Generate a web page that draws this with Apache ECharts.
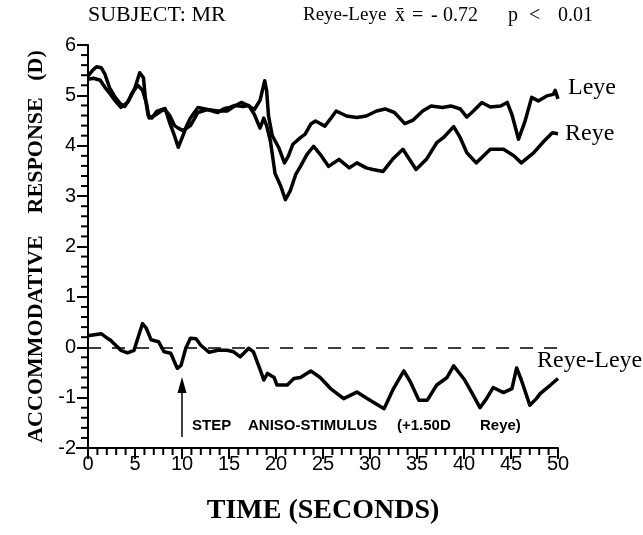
<!DOCTYPE html>
<html>
<head>
<meta charset="utf-8">
<script src="https://cdn.jsdelivr.net/npm/echarts@6/dist/echarts.min.js"></script>
<style>
html,body{margin:0;padding:0;background:#fff;}
#c{width:643px;height:535px;}
</style>
</head>
<body>
<div id="c"></div>
<script>
// ---- Data (time in seconds, accommodative response in D) ----
var xTicks = [0, 5, 10, 15, 20, 25, 30, 35, 40, 45, 50];
var yTicks = [-2, -1, 0, 1, 2, 3, 4, 5, 6];

var reyeT = [0,0.5,0.9,1.4,1.8,2.3,2.9,3.4,3.9,4.4,5.0,5.5,5.9,6.1,6.4,6.8,7.3,8.2,8.7,9.2,9.6,10.1,10.5,10.9,11.7,12.7,13.8,14.5,15.1,15.6,16.5,17.1,17.7,18.3,18.7,19.0,19.4,19.9,20.5,21.0,21.5,22.1,22.6,23.3,24.0,24.7,25.6,26.7,27.8,28.6,29.6,30.3,31.4,32.4,33.5,34.9,36.0,37.1,37.8,38.9,39.6,40.3,41.3,42.8,44.2,45.3,46.1,47.4,48.5,49.4,50];
var reyeV = [5.38,5.5,5.57,5.55,5.42,5.15,4.96,4.84,4.78,4.92,5.15,5.45,5.35,4.95,4.6,4.55,4.68,4.74,4.45,4.2,3.97,4.2,4.4,4.55,4.76,4.72,4.66,4.74,4.76,4.8,4.78,4.8,4.62,4.35,4.55,4.4,4.1,3.45,3.2,2.93,3.1,3.43,3.59,3.83,3.99,3.83,3.59,3.73,3.56,3.66,3.56,3.53,3.49,3.73,3.93,3.53,3.73,4.06,4.16,4.38,4.16,3.86,3.66,3.93,3.93,3.8,3.66,3.86,4.09,4.26,4.24];

var leyeT = [0,0.6,1.3,1.8,2.4,2.9,3.5,4.2,4.7,5.3,5.8,6.2,6.5,7.0,7.8,8.2,8.7,9.2,9.6,10.1,10.9,11.7,12.7,13.8,14.8,15.6,16.3,17.0,17.7,18.3,18.8,19.0,19.2,19.6,20.3,20.9,21.3,21.8,22.6,23.1,23.7,24.2,25.2,25.9,26.4,27.5,28.6,29.6,30.7,31.6,32.6,33.7,34.6,35.6,36.5,37.7,38.6,39.6,40.3,41.0,41.9,42.8,43.9,44.6,45.1,45.8,46.5,47.2,47.9,48.8,49.5,49.7,50];
var leyeV = [5.32,5.34,5.3,5.16,5.02,4.89,4.76,4.86,5.05,5.2,5.1,4.86,4.55,4.59,4.69,4.72,4.6,4.4,4.35,4.3,4.4,4.66,4.72,4.69,4.69,4.79,4.86,4.8,4.72,4.9,5.29,5.1,4.6,4.2,3.96,3.66,3.79,4.03,4.16,4.23,4.43,4.49,4.39,4.56,4.69,4.59,4.56,4.59,4.69,4.73,4.66,4.44,4.51,4.69,4.79,4.76,4.79,4.73,4.57,4.69,4.86,4.77,4.79,4.86,4.62,4.13,4.49,4.96,4.89,4.99,5.02,5.1,4.93];

var diffT = [0,0.7,1.4,1.9,2.4,3.0,3.5,4.2,4.9,5.3,5.8,6.2,6.7,7.5,8.1,8.8,9.5,9.9,10.4,10.9,11.5,12.0,12.9,13.8,14.8,15.5,16.2,17.1,17.6,18.4,18.7,19.1,19.8,20.1,21.2,21.9,22.6,23.7,24.7,25.8,27.2,28.6,30.0,31.5,32.5,33.6,34.3,35.2,36.1,37.1,38.2,38.9,40.0,40.8,41.7,42.4,43.1,44.2,45.1,45.6,46.1,47.0,47.7,48.1,49.2,50.0];
var diffV = [0.23,0.25,0.27,0.2,0.14,0.03,-0.06,-0.11,-0.06,0.18,0.47,0.38,0.15,0.11,-0.09,-0.12,-0.42,-0.36,-0.02,0.18,0.17,0.04,-0.1,-0.06,-0.06,-0.09,-0.19,-0.02,-0.09,-0.49,-0.65,-0.52,-0.6,-0.75,-0.75,-0.62,-0.6,-0.47,-0.6,-0.82,-1.02,-0.89,-1.05,-1.22,-0.82,-0.47,-0.69,-1.05,-1.05,-0.75,-0.6,-0.37,-0.63,-0.89,-1.2,-1.02,-0.8,-0.9,-0.82,-0.41,-0.65,-1.15,-1.02,-0.92,-0.75,-0.62];

var stepTime = 10;          // stimulus step at 10 s
var arrowFrom = -1.78, arrowTo = -0.75;
var xMinorStep = 1;         // minor tick spacing (s)
var yMinorStep = 0.2;       // minor tick spacing (D)

function pairs(t, v) { return t.map(function (x, i) { return [x, v[i]]; }); }

var xMin = xTicks[0], xMax = xTicks[xTicks.length - 1];
var yMin = yTicks[0], yMax = yTicks[yTicks.length - 1];

// minor tick positions (axis values, not data)
var xMinor = [], yMinor = [];
for (var i = 1; i < Math.round((xMax - xMin) / xMinorStep); i++) {
  var xv = xMin + i * xMinorStep;
  if (xTicks.indexOf(xv) < 0) xMinor.push([xv, yMin]);
}
for (var j = 1; j < Math.round((yMax - yMin) / yMinorStep); j++) {
  if (j % 5 === 0) continue;
  yMinor.push([xMin, +(yMin + j * yMinorStep).toFixed(2)]);
}

var chart = echarts.init(document.getElementById('c'), null, {renderer: 'canvas'});
var serif = "'Liberation Serif', 'DejaVu Serif', serif";
var sans = "'Liberation Sans', Arial, sans-serif";
var lineStyle = {color: '#000', width: 3.5, join: 'round'};

function tickRenderer(dir) {
  return function (params, api) {
    var p = api.coord([api.value(0), api.value(1)]);
    var shape = dir === 'x'
      ? {x1: p[0], y1: p[1], x2: p[0], y2: p[1] + 7}
      : {x1: p[0], y1: p[1], x2: p[0] - 7, y2: p[1]};
    return {type: 'line', shape: shape, style: {stroke: '#000', lineWidth: 2}};
  };
}

chart.setOption({
  backgroundColor: '#fff',
  animation: false,
  grid: {left: 88, right: 85, top: 45, bottom: 87, containLabel: false},
  xAxis: {
    type: 'value', min: xMin, max: xMax, interval: 5,
    name: 'TIME (SECONDS)', nameLocation: 'middle', nameGap: 49,
    nameTextStyle: {fontFamily: serif, fontWeight: 'bold', fontSize: 28, color: '#000'},
    axisLine: {onZero: false, lineStyle: {color: '#000', width: 2}},
    axisTick: {show: true, inside: false, length: 11, lineStyle: {color: '#000', width: 2}},
    axisLabel: {fontFamily: sans, fontSize: 20, color: '#000', margin: 6},
    splitLine: {show: false}
  },
  yAxis: {
    type: 'value', min: yMin, max: yMax, interval: 1,
    name: 'ACCOMMODATIVE    RESPONSE   (D)', nameLocation: 'middle', nameGap: 32, nameRotate: 90,
    nameTextStyle: {fontFamily: serif, fontWeight: 'bold', fontSize: 22, color: '#000'},
    axisLine: {onZero: false, lineStyle: {color: '#000', width: 2}},
    axisTick: {show: true, inside: false, length: 11, lineStyle: {color: '#000', width: 2}},
    axisLabel: {fontFamily: sans, fontSize: 20, color: '#000', margin: 12},
    splitLine: {show: false}
  },
  series: [
    {name: 'Leye', type: 'line', data: pairs(leyeT, leyeV), showSymbol: false, symbol: 'none', lineStyle: lineStyle, z: 3},
    {name: 'Reye', type: 'line', data: pairs(reyeT, reyeV), showSymbol: false, symbol: 'none', lineStyle: lineStyle, z: 3},
    {name: 'Reye-Leye', type: 'line', data: pairs(diffT, diffV), showSymbol: false, symbol: 'none', lineStyle: lineStyle, z: 3,
      markLine: {
        silent: true, animation: false, label: {show: false}, symbol: ['none', 'none'],
        data: [
          {yAxis: 0, lineStyle: {color: '#000', width: 1.5, type: [13, 11]}},
          [{coord: [stepTime, arrowFrom], symbol: 'none', lineStyle: {color: '#000', width: 1.5, type: 'solid'}},
           {coord: [stepTime, arrowTo], symbol: 'triangle', symbolSize: [9, 16]}]
        ]
      }
    },
    {name: 'xMinorTicks', type: 'custom', clip: false, silent: true, data: xMinor, renderItem: tickRenderer('x'), z: 5},
    {name: 'yMinorTicks', type: 'custom', clip: false, silent: true, data: yMinor, renderItem: tickRenderer('y'), z: 5}
  ],
  graphic: [
    {type: 'line', shape: {x1: 76, y1: 448, x2: 88, y2: 448}, style: {stroke: '#000', lineWidth: 2}},
    {type: 'text', left: 88, top: 4, style: {text: 'SUBJECT: MR', font: '22px ' + serif, fill: '#000'}},
    {type: 'text', left: 303, top: 6, style: {text: 'Reye-Leye', font: '19px ' + serif, fill: '#000'}},
    {type: 'text', left: 395, top: 6, style: {text: 'x\u0304', font: '20px ' + serif, fill: '#000'}},
    {type: 'text', left: 412, top: 6, style: {text: '=', font: '20px ' + serif, fill: '#000'}},
    {type: 'text', left: 431, top: 6, style: {text: '-', font: '20px ' + serif, fill: '#000'}},
    {type: 'text', left: 443, top: 6, style: {text: '0.72', font: '20px ' + serif, fill: '#000'}},
    {type: 'text', left: 508, top: 6, style: {text: 'p', font: '20px ' + serif, fill: '#000'}},
    {type: 'text', left: 529, top: 6, style: {text: '<', font: '20px ' + serif, fill: '#000'}},
    {type: 'text', left: 558, top: 6, style: {text: '0.01', font: '20px ' + serif, fill: '#000'}},
    {type: 'text', left: 568, top: 76, style: {text: 'Leye', font: '24px ' + serif, fill: '#000'}},
    {type: 'text', left: 565, top: 122, style: {text: 'Reye', font: '24px ' + serif, fill: '#000'}},
    {type: 'text', left: 537, top: 349, style: {text: 'Reye-Leye', font: '24px ' + serif, fill: '#000'}},
    {type: 'text', left: 192, top: 418, style: {text: 'STEP', font: 'bold 15px ' + sans, fill: '#000'}},
    {type: 'text', left: 248, top: 418, style: {text: 'ANISO-STIMULUS', font: 'bold 15px ' + sans, fill: '#000'}},
    {type: 'text', left: 397, top: 418, style: {text: '(+1.50D', font: 'bold 15px ' + sans, fill: '#000'}},
    {type: 'text', left: 480, top: 418, style: {text: 'Reye)', font: 'bold 15px ' + sans, fill: '#000'}}
  ]
});
</script>
</body>
</html>
